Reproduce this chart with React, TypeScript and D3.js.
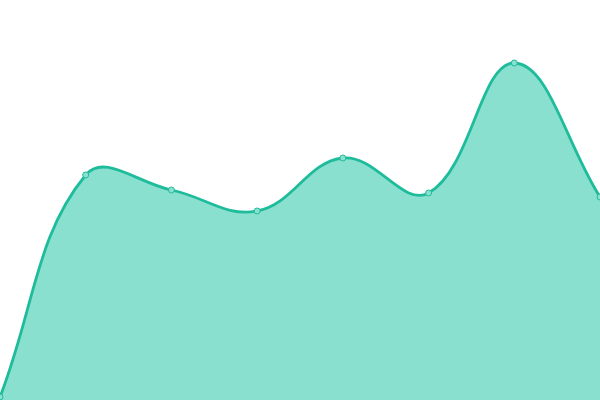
import { useEffect, useRef } from "react";
import * as d3 from "d3";

const categories = ["A", "B", "C", "D", "E", "F", "G", "H"];
const values = [3, 225, 210, 189, 242, 207, 337, 203];

const WIDTH = 600;
const HEIGHT = 400;
const TENSION = 0.4;

// spline like Chart.js' default line interpolation (tension 0.4)
function splineCurve(context: any) {
  let xs: number[] = [];
  let ys: number[] = [];
  let lineFlag = NaN;
  return {
    areaStart() {
      lineFlag = 0;
    },
    areaEnd() {
      lineFlag = NaN;
    },
    lineStart() {
      xs = [];
      ys = [];
    },
    point(x: number, y: number) {
      xs.push(+x);
      ys.push(+y);
    },
    lineEnd() {
      const n = xs.length;
      if (n) {
        if (lineFlag) context.lineTo(xs[0], ys[0]);
        else context.moveTo(xs[0], ys[0]);
        const cps = xs.map((_, i) => {
          const pi = i > 0 ? i - 1 : i;
          const ni = i < n - 1 ? i + 1 : i;
          const d01 = Math.hypot(xs[i] - xs[pi], ys[i] - ys[pi]);
          const d12 = Math.hypot(xs[ni] - xs[i], ys[ni] - ys[i]);
          let s01 = d01 / (d01 + d12);
          let s12 = d12 / (d01 + d12);
          if (!isFinite(s01)) s01 = 0;
          if (!isFinite(s12)) s12 = 0;
          const fa = TENSION * s01;
          const fb = TENSION * s12;
          const dx = xs[ni] - xs[pi];
          const dy = ys[ni] - ys[pi];
          return {
            px: xs[i] - fa * dx,
            py: Math.max(0, Math.min(HEIGHT, ys[i] - fa * dy)),
            nx: xs[i] + fb * dx,
            ny: Math.max(0, Math.min(HEIGHT, ys[i] + fb * dy)),
          };
        });
        for (let i = 1; i < n; i++) {
          context.bezierCurveTo(cps[i - 1].nx, cps[i - 1].ny, cps[i].px, cps[i].py, xs[i], ys[i]);
        }
      }
      if (lineFlag || (lineFlag !== 0 && n === 1)) context.closePath();
      lineFlag = 1 - lineFlag;
    },
  };
}

export default function App() {
  const ref = useRef<SVGSVGElement | null>(null);

  useEffect(() => {
    const svgEl = ref.current;
    if (!svgEl) return;
    const svg = d3.select(svgEl);
    svg.selectAll("*").remove();

    const x = d3.scalePoint<string>().domain(categories).range([0, WIDTH]);
    const y = d3.scaleLinear().domain([0, 400]).range([HEIGHT, 0]);

    const pts = categories.map((c, i) => ({ c, v: values[i] }));

    const area = d3
      .area<{ c: string; v: number }>()
      .x((d) => x(d.c) ?? 0)
      .y0(y(0))
      .y1((d) => y(d.v))
      .curve(splineCurve as any);

    const line = d3
      .line<{ c: string; v: number }>()
      .x((d) => x(d.c) ?? 0)
      .y((d) => y(d.v))
      .curve(splineCurve as any);

    svg.append("path").attr("d", area(pts)).attr("fill", "#8ae0cf");
    svg
      .append("path")
      .attr("d", line(pts))
      .attr("fill", "none")
      .attr("stroke", "#1fbc9c")
      .attr("stroke-width", 2.8);

    svg
      .append("g")
      .selectAll("circle")
      .data(pts)
      .join("circle")
      .attr("cx", (d) => x(d.c) ?? 0)
      .attr("cy", (d) => y(d.v))
      .attr("r", 3)
      .attr("fill", "#8ae0cf")
      .attr("stroke", "#1fbc9c")
      .attr("stroke-width", 1);
  }, []);

  return (
    <svg
      ref={ref}
      width={WIDTH}
      height={HEIGHT}
      style={{ position: "absolute", left: 0, top: 0, display: "block" }}
    />
  );
}
